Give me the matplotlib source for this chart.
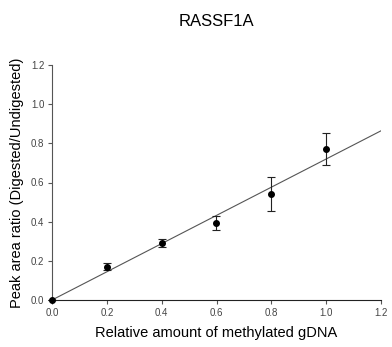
import matplotlib
matplotlib.use("Agg")
import matplotlib.pyplot as plt
import numpy as np

plt.rcParams['font.family'] = ['Liberation Sans', 'DejaVu Sans']

# measured data
amount = [0.0, 0.2, 0.4, 0.6, 0.8, 1.0]
ratio = [0.0, 0.17, 0.29, 0.395, 0.54, 0.77]
err = [0.0, 0.017, 0.02, 0.035, 0.088, 0.083]

# fitted line through origin
fit_x = [0.0, 1.2]
fit_slope = 0.72

fig = plt.figure(figsize=(3.92, 3.47), dpi=100)
ax = fig.add_axes([52/392, 1 - 300/347, (381-52)/392, (300-65)/347])

ax.plot(fit_x, [fit_slope * v for v in fit_x], color='#555555', linewidth=0.8, zorder=1)
ax.errorbar(amount, ratio, yerr=err, fmt='o', color='black', markersize=4,
            elinewidth=0.8, ecolor='#222222', capsize=3, capthick=0.8, zorder=3,
            clip_on=False)

ticks = np.arange(0, 1.21, 0.2)
ax.set_xlim(0, 1.2)
ax.set_ylim(0, 1.2)
ax.set_xticks(ticks)
ax.set_yticks(ticks)
ax.set_xticklabels(['%.1f' % v for v in ticks])
ax.set_yticklabels(['%.1f' % v for v in ticks])
ax.tick_params(labelsize=7, colors='#555555', labelcolor='#444444',
               length=3, width=0.8, direction='out', pad=2.5)

for s in ['top', 'right']:
    ax.spines[s].set_visible(False)
ax.spines['left'].set_color('#555555')
ax.spines['bottom'].set_color('#222222')

ax.set_xlabel('Relative amount of methylated gDNA', fontsize=10.5, labelpad=6)
ax.set_ylabel('Peak area ratio (Digested/Undigested)', fontsize=10.5, labelpad=5)
fig.text(216/392, 1 - 21/347, 'RASSF1A', ha='center', va='center', fontsize=12)

fig.savefig('out.png', dpi=100)
